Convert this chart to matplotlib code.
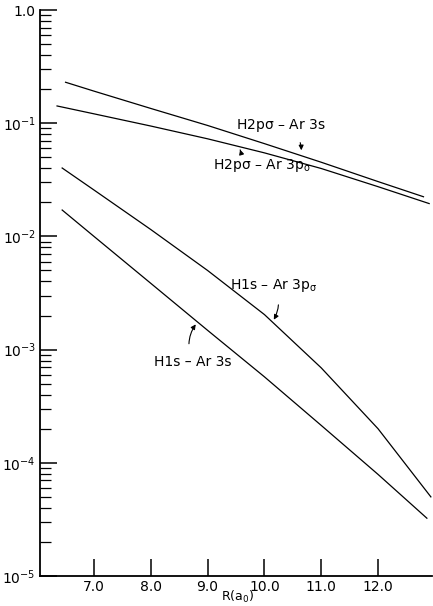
import matplotlib
matplotlib.use("Agg")
import matplotlib.pyplot as plt
from matplotlib.ticker import LogLocator, FixedLocator, NullFormatter

# values (R in bohr)
r_h2p_3s = [6.5, 7.0, 8.0, 9.0, 10.0, 11.0, 12.0, 12.8]
v_h2p_3s = [0.230, 0.192, 0.135, 0.0955, 0.066, 0.0452, 0.0305, 0.0224]

r_h2p_3p = [6.35, 7.0, 8.0, 9.0, 10.0, 11.0, 12.0, 12.9]
v_h2p_3p = [0.142, 0.121, 0.0944, 0.0728, 0.0547, 0.0398, 0.0275, 0.0195]

r_h1s_3p = [6.44, 7.0, 8.0, 9.0, 10.0, 11.0, 12.0, 12.93]
v_h1s_3p = [0.0402, 0.0257, 0.0115, 5.0e-3, 2.04e-3, 6.9e-4, 2.0e-4, 5.0e-5]

r_h1s_3s = [6.44, 7.0, 8.0, 9.0, 10.0, 11.0, 12.0, 12.86]
v_h1s_3s = [0.0171, 0.010, 3.85e-3, 1.48e-3, 5.75e-4, 2.14e-4, 7.9e-5, 3.24e-5]

x_ticks = [7.0, 8.0, 9.0, 10.0, 11.0, 12.0]
x_ticklabels = ["7.0", "8.0", "9.0", "10.0", "11.0", "12.0"]
y_ticks = [1e-5, 1e-4, 1e-3, 1e-2, 1e-1, 1.0]
y_ticklabels = [r"$10^{-5}$", r"$10^{-4}$", r"$10^{-3}$", r"$10^{-2}$", r"$10^{-1}$", "1.0"]

plt.rcParams["font.family"] = ["DejaVu Sans"]
plt.rcParams["mathtext.default"] = "regular"

fig = plt.figure(figsize=(4.33, 6.06), dpi=100)
ax = fig.add_axes([40 / 433, 30 / 606, 392 / 433, 566 / 606])

for r, v in [(r_h2p_3s, v_h2p_3s), (r_h2p_3p, v_h2p_3p),
             (r_h1s_3p, v_h1s_3p), (r_h1s_3s, v_h1s_3s)]:
    ax.plot(r, v, color="black", lw=0.9)

ax.set_yscale("log")
ax.set_xlim(6.05, 12.95)
ax.set_ylim(1e-5, 1.0)

ax.spines["top"].set_visible(False)
ax.spines["right"].set_visible(False)
ax.spines["left"].set_linewidth(1.3)
ax.spines["bottom"].set_linewidth(1.3)

ax.xaxis.set_major_locator(FixedLocator(x_ticks))
ax.set_xticklabels(x_ticklabels, fontsize=10)
ax.yaxis.set_major_locator(FixedLocator(y_ticks))
ax.set_yticklabels(y_ticklabels, fontsize=10)
ax.yaxis.set_minor_locator(LogLocator(base=10, subs=range(2, 10)))
ax.yaxis.set_minor_formatter(NullFormatter())
ax.tick_params(axis="both", which="major", direction="in", length=12, width=1.1, pad=3)
ax.tick_params(axis="y", which="minor", direction="in", length=8, width=0.9)
ax.tick_params(axis="x", which="minor", bottom=False)

ax.set_xlabel(r"R($a_0$)", fontsize=9)
ax.xaxis.set_label_coords((9.52 - 6.05) / 6.9, -0.022)

# curve labels with curved arrows
arrow = dict(arrowstyle="-|>", color="black", lw=0.8, mutation_scale=7, shrinkA=5)
ax.annotate(r"H2p$\sigma$ – Ar 3s", xy=(10.65, 0.0545), xytext=(10.28, 0.0964),
            fontsize=10, ha="center", va="center",
            arrowprops=dict(arrow, connectionstyle="arc3,rad=-0.4"))
ax.annotate(r"H2p$\sigma$ – Ar 3p$_{\sigma}$", xy=(9.56, 0.0617), xytext=(9.95, 0.0427),
            fontsize=10, ha="center", va="center",
            arrowprops=dict(arrow, connectionstyle="arc3,rad=-0.4", shrinkA=3))
ax.annotate(r"H1s – Ar 3p$_{\sigma}$", xy=(10.14, 1.75e-3), xytext=(10.16, 3.7e-3),
            fontsize=10, ha="center", va="center",
            arrowprops=dict(arrow, connectionstyle="arc3,rad=-0.3", shrinkA=6))
ax.annotate("H1s – Ar 3s", xy=(8.82, 1.75e-3), xytext=(8.74, 7.8e-4),
            fontsize=10, ha="center", va="center",
            arrowprops=dict(arrow, connectionstyle="arc3,rad=-0.3", shrinkA=6))

fig.savefig("out.png", dpi=100)
